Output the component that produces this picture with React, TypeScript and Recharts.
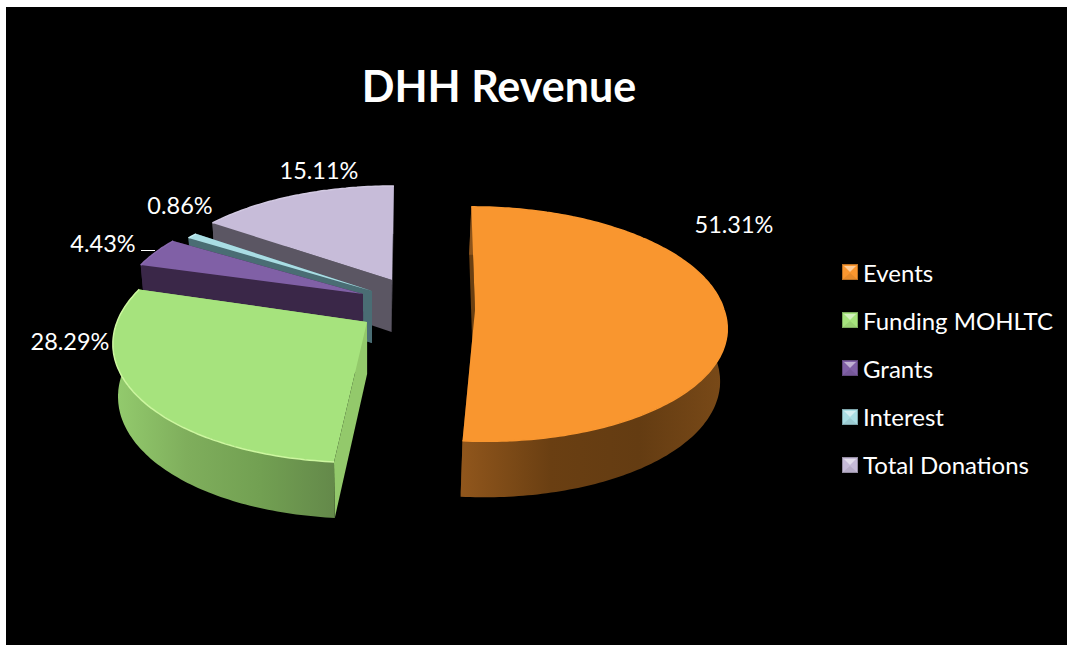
import React from "react";
import { PieChart, Pie, Legend } from "recharts";

const CATEGORIES = ["Events", "Funding MOHLTC", "Grants", "Interest", "Total Donations"];
const VALUES = [51.31, 28.29, 4.43, 0.86, 15.11];

const TOP_COLORS = ["#f9962f", "#a6e37d", "#8060a6", "#a9dde4", "#c7bcd9"];
const RIM_COLORS = ["#f9962f", "#cdf7a0", "#8a6ab0", "#c4eef3", "#d2c9e2"];
const WALL_COLORS = ["#6a3f12", "#93c96b", "#3a2748", "#4a6d74", "#5b5663"];
const OUTER_WALL_STOPS = [
  ["#90561c", "#6a3f12", "#643c12", "#7a4a18"],
  ["#94cc6e", "#7fae5c", "#72a052", "#64894a"],
  ["#3a2748", "#3a2748", "#3a2748", "#3a2748"],
  ["#4a6d74", "#4a6d74", "#4a6d74", "#4a6d74"],
  ["#5b5663", "#5b5663", "#5b5663", "#5b5663"],
];

// per slice projection of the exploded pie: apex, radius, perspective
const SLICE_VIEW = [
  { ax: 475, ay: 310, rx: 249, t: 0.12, a: 963, l: 35, bend: 6 },
  { ax: 367, ay: 322, rx: 250, t: 0.15, a: 796, l: -50, bend: 0 },
  { ax: 363, ay: 294, rx: 240, t: 0.11, a: 951, l: -25, bend: 0 },
  { ax: 372, ay: 291, rx: 232, t: 0.11, a: 950, l: -22, bend: 0 },
  { ax: 392, ay: 280, rx: 236, t: 0.106, a: 981, l: -20, bend: 0 },
];
const LABEL_POS = [
  [734, 224],
  [70, 341],
  [103, 243],
  [180, 205],
  [319, 170],
];

const FONT = "Lato, 'Open Sans', sans-serif";
const DEPTH = 52;
const DEPTH_LEAN = 4;
// the underside of the pie is a little further from the camera
const LOW_CENTER_X = 370;
const LOW_SCALE = 0.98;

// drawn back to front, which is why the table runs from Total Donations to Events
const pieData = CATEGORIES.map((name, i) => ({ name, value: VALUES[i] })).reverse();

const project = (view: (typeof SLICE_VIEW)[number], deg: number, low = false) => {
  const u = Math.cos((deg * Math.PI) / 180);
  const v = Math.sin((deg * Math.PI) / 180);
  const s = 1 / (1 + view.t * v);
  const x = view.ax + (view.rx * u + view.l) * s - view.l + view.bend * Math.max(0, -v);
  const y = view.ay + view.a * (s - 1);
  return low ? [LOW_CENTER_X + (x - LOW_CENTER_X) * LOW_SCALE, y + DEPTH - DEPTH_LEAN * v] : [x, y];
};

const pts = (list: number[][]) => list.map((p) => `${p[0].toFixed(1)},${p[1].toFixed(1)}`).join(" ");

const SliceShape = (props: any) => {
  const i = CATEGORIES.indexOf(props.name ?? props.payload?.name);
  const view = SLICE_VIEW[i];
  const { startAngle, endAngle } = props;
  const angles: number[] = [];
  for (let a = startAngle; a < endAngle; a += 1) angles.push(a);
  angles.push(endAngle);

  const upper = angles.map((a) => project(view, a));
  const lower = angles.map((a) => project(view, a, true));
  const apex = [view.ax, view.ay];
  const apexLow = [LOW_CENTER_X + (view.ax - LOW_CENTER_X) * LOW_SCALE, view.ay + DEPTH];
  const xs = upper.map((p) => p[0]);
  const gradId = `wall-${i}`;
  const stops = OUTER_WALL_STOPS[i];
  const first = upper[0];
  const last = upper[upper.length - 1];

  return (
    <g>
      <defs>
        <linearGradient
          id={gradId}
          gradientUnits="userSpaceOnUse"
          x1={Math.min(...xs)}
          x2={Math.max(...xs)}
          y1={0}
          y2={0}
        >
          {stops.map((c, k) => (
            <stop key={k} offset={k / (stops.length - 1)} stopColor={c} />
          ))}
        </linearGradient>
      </defs>
      <polygon points={pts([apex, first, lower[0], apexLow])} fill={WALL_COLORS[i]} />
      <polygon points={pts([apex, last, lower[lower.length - 1], apexLow])} fill={WALL_COLORS[i]} />
      <polygon points={pts([...upper, ...[...lower].reverse()])} fill={`url(#${gradId})`} />
      <polygon points={pts([apex, ...upper])} fill={TOP_COLORS[i]} />
      <polyline points={pts(upper)} fill="none" stroke={RIM_COLORS[i]} strokeWidth={1.5} />
    </g>
  );
};

const renderLabel = (props: any) => {
  const i = CATEGORIES.indexOf(props.name ?? props.payload?.name);
  const [x, y] = LABEL_POS[i];
  return (
    <g key={i}>
      <text
        x={x}
        y={y}
        fill="#ffffff"
        textAnchor="middle"
        dominantBaseline="central"
        fontSize={23.5}
        fontFamily={FONT}
      >
        {`${(props.percent * 100).toFixed(2)}%`}
      </text>
      {i === 2 && <line x1={141} x2={155} y1={250.5} y2={250.5} stroke="#ffffff" strokeWidth={1} />}
    </g>
  );
};

const LegendIcon = ({ index }: { index: number }) => {
  const c = TOP_COLORS[index];
  return (
    <svg width={16} height={16} style={{ marginRight: 5, flex: "none" }}>
      <rect width={16} height={16} fill={c} />
      <polygon points="2,2 14,2 8,8" fill="#ffffff" fillOpacity={0.5} />
      <polygon points="1,15 15,15 8,9" fill="#000000" fillOpacity={0.08} />
      <rect x={0.5} y={0.5} width={15} height={15} fill="none" stroke="#000000" strokeOpacity={0.25} />
    </svg>
  );
};

const LegendList = () => (
  <div>
    {CATEGORIES.map((name, i) => (
      <div
        key={name}
        style={{
          display: "flex",
          alignItems: "center",
          height: 48.2,
          color: "#ffffff",
          fontSize: 24,
          fontFamily: FONT,
          whiteSpace: "nowrap",
        }}
      >
        <LegendIcon index={i} />
        {name}
      </div>
    ))}
  </div>
);

export default function App() {
  return (
    <div style={{ position: "fixed", left: 0, top: 0, width: 1067, height: 645, background: "#ffffff", overflow: "hidden" }}>
      <div style={{ position: "absolute", left: 6, top: 7, width: 1061, height: 638, background: "#000000" }} />
      <div
        style={{
          position: "absolute",
          left: 0,
          width: 998,
          top: 59,
          textAlign: "center",
          color: "#ffffff",
          fontFamily: FONT,
          fontWeight: 700,
          fontSize: 43,
          lineHeight: "54px",
        }}
      >
        DHH Revenue
      </div>
      <div style={{ position: "absolute", left: 0, top: 0 }}>
        <PieChart width={1067} height={645}>
          <Pie
            data={pieData}
            dataKey="value"
            nameKey="name"
            cx={420}
            cy={320}
            outerRadius={250}
            startAngle={90}
            endAngle={450}
            stroke="none"
            isAnimationActive={false}
            shape={SliceShape}
            label={renderLabel}
            labelLine={false}
          />
          <Legend
            layout="vertical"
            align="left"
            verticalAlign="top"
            wrapperStyle={{ left: 842, top: 248, width: 225 }}
            content={<LegendList />}
          />
        </PieChart>
      </div>
    </div>
  );
}
